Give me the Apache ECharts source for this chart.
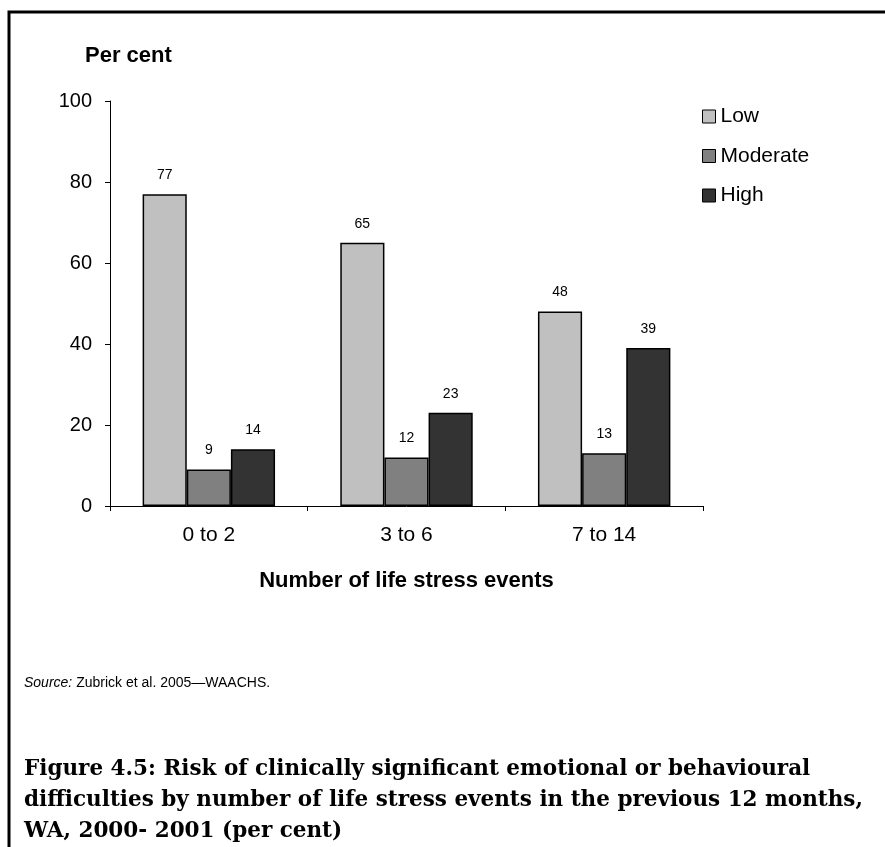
<!DOCTYPE html>
<html><head><meta charset="utf-8">
<script src="https://cdn.jsdelivr.net/npm/echarts@6/dist/echarts.min.js"></script>
<style>html,body{margin:0;padding:0;background:#fff}#c{width:885px;height:847px}</style>
</head><body><div id="c"></div>
<script>
const categories = ['0 to 2', '3 to 6', '7 to 14'];
const lowValues = [77, 65, 48];
const moderateValues = [9, 12, 13];
const highValues = [14, 23, 39];
const seriesNames = ['Low', 'Moderate', 'High'];
const seriesColors = ['#c0c0c0', '#808080', '#333333'];
const yTicks = { min: 0, max: 100, interval: 20 };

const chart = echarts.init(document.getElementById('c'), null, { renderer: 'canvas' });
const sans = 'Liberation Sans, Arial, sans-serif';
const serif = 'DejaVu Serif, serif';
const mk = (name, data, color) => ({
  name, type: 'bar', data,
  barGap: '0%', barCategoryGap: '33%',
  itemStyle: { color, borderColor: '#000', borderWidth: 1.5 },
  label: { show: true, position: 'top', distance: 12, fontFamily: sans, fontSize: 14, color: '#000' },
  emphasis: { disabled: true }
});
chart.setOption({
  animation: false,
  backgroundColor: '#fff',
  title: [
    { text: 'Per cent', left: 85, top: 45, padding: 0, textStyle: { fontFamily: sans, fontSize: 22, fontWeight: 'bold', color: '#000' } },
    { text: '{i|Source:} Zubrick et al. 2005—WAACHS.', left: 24, top: 676, padding: 0,
      textStyle: { fontFamily: sans, fontSize: 14, fontWeight: 'normal', color: '#000',
        rich: { i: { fontFamily: sans, fontSize: 14, fontStyle: 'italic', color: '#000' } } } },
    { text: 'Figure 4.5: Risk of clinically significant emotional or behavioural\ndifficulties by number of life stress events in the previous 12 months,\nWA, 2000- 2001 (per cent)',
      left: 24, top: 754, padding: 0,
      textStyle: { fontFamily: serif, fontSize: 21.5, fontWeight: 'bold', color: '#000', lineHeight: 31 } }
  ],
  legend: {
    orient: 'vertical', left: 702, top: 106, padding: 0, itemWidth: 13, itemHeight: 13, itemGap: 18.5,
    icon: 'rect',
    itemStyle: { borderColor: '#000', borderWidth: 1 },
    textStyle: { fontFamily: sans, fontSize: 21, color: '#000' },
    data: seriesNames
  },
  grid: { left: 110, right: 182, top: 101, bottom: 341, containLabel: false },
  xAxis: {
    type: 'category', data: categories,
    name: 'Number of life stress events', nameLocation: 'middle', nameGap: 64,
    nameTextStyle: { fontFamily: sans, fontSize: 22, fontWeight: 'bold', color: '#000' },
    axisLine: { lineStyle: { color: '#000', width: 1 } },
    axisTick: { show: true, length: 5, lineStyle: { color: '#000' } },
    axisLabel: { fontFamily: sans, fontSize: 21, color: '#000', margin: 19 }
  },
  yAxis: {
    type: 'value', min: yTicks.min, max: yTicks.max, interval: yTicks.interval,
    axisLine: { show: true, lineStyle: { color: '#000', width: 1 } },
    axisTick: { show: true, length: 5, lineStyle: { color: '#000' } },
    splitLine: { show: false },
    axisLabel: { fontFamily: sans, fontSize: 20, color: '#000', margin: 18 }
  },
  series: [
    mk(seriesNames[0], lowValues, seriesColors[0]),
    mk(seriesNames[1], moderateValues, seriesColors[1]),
    mk(seriesNames[2], highValues, seriesColors[2])
  ],
  graphic: [
    { type: 'polyline', shape: { points: [[9, 847], [9, 12], [885, 12]] }, style: { stroke: '#000', lineWidth: 3, fill: null } }
  ]
});
</script></body></html>
